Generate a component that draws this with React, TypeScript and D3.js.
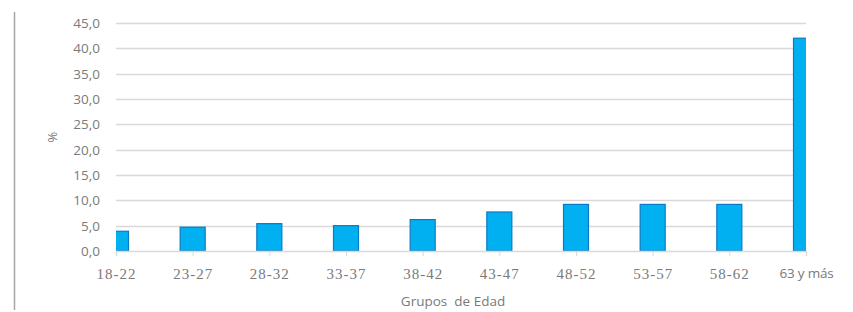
import React, { useEffect, useRef } from "react";
import * as d3 from "d3";

const categories = ["18-22", "23-27", "28-32", "33-37", "38-42", "43-47", "48-52", "53-57", "58-62", "63 y más"];
const values = [3.9, 4.7, 5.4, 5.0, 6.2, 7.7, 9.2, 9.2, 9.2, 42.0];
const yTicks = [0, 5, 10, 15, 20, 25, 30, 35, 40, 45];

export default function App() {
  const ref = useRef<SVGSVGElement>(null);

  useEffect(() => {
    const svg = d3.select(ref.current);
    svg.selectAll("*").remove();

    const width = 853,
      height = 312;
    const left = 116,
      right = 806,
      top = 23,
      bottom = 251;

    // categories sit on the tick marks, first and last bar are cut in half
    const x = d3.scalePoint<string>().domain(categories).range([left, right]);
    const y = d3.scaleLinear().domain([0, 45]).range([bottom, top]);
    const barW = 25;

    svg.attr("width", width).attr("height", height);

    // left border line
    svg
      .append("line")
      .attr("x1", 14.5)
      .attr("x2", 14.5)
      .attr("y1", 12)
      .attr("y2", 310)
      .attr("stroke", "#a6a6a6")
      .attr("stroke-width", 1.5);

    svg
      .append("g")
      .selectAll("line")
      .data(yTicks.slice(1))
      .enter()
      .append("line")
      .attr("x1", left)
      .attr("x2", right)
      .attr("y1", (d) => Math.round(y(d)) + 0.5)
      .attr("y2", (d) => Math.round(y(d)) + 0.5)
      .attr("stroke", "#d9d9d9")
      .attr("stroke-width", 1.3);

    svg
      .append("g")
      .selectAll("text")
      .data(yTicks)
      .enter()
      .append("text")
      .attr("x", 100)
      .attr("y", (d) => y(d) + 5)
      .attr("text-anchor", "end")
      .attr("font-family", "Open Sans, sans-serif")
      .attr("font-size", 13.5)
      .attr("fill", "#7a7a7a")
      .text((d) => d.toFixed(1).replace(".", ","));

    svg
      .append("defs")
      .append("clipPath")
      .attr("id", "plot")
      .append("rect")
      .attr("x", left)
      .attr("y", 0)
      .attr("width", right - left)
      .attr("height", bottom);

    svg
      .append("g")
      .attr("clip-path", "url(#plot)")
      .selectAll("rect")
      .data(values)
      .enter()
      .append("rect")
      .attr("x", (d, i) => x(categories[i])! - barW / 2)
      .attr("y", (d) => y(d))
      .attr("width", barW)
      .attr("height", (d) => bottom - y(d))
      .attr("fill", "#00b0f0")
      .attr("stroke", "#0b79c4")
      .attr("stroke-width", 1.2);

    const axis = svg
      .append("g")
      .attr("transform", `translate(0,${bottom})`)
      .call(d3.axisBottom(x).tickSize(5).tickPadding(12));
    axis.attr("font-family", null);
    axis.select(".domain").attr("stroke", "#d9d9d9").attr("stroke-width", 1.3);
    axis.selectAll(".tick line").attr("stroke", "#d9d9d9");
    axis
      .selectAll<SVGTextElement, string>(".tick text")
      .attr("fill", "#7a7a7a")
      .style("font-family", (d) =>
        d === "63 y más"
          ? "'Open Sans', sans-serif"
          : "'Liberation Serif', 'DejaVu Serif', 'Times New Roman', serif"
      )
      .style("font-size", (d) => (d === "63 y más" ? "13.5px" : "15px"))
      .style("letter-spacing", (d) => (d === "63 y más" ? "-0.2px" : "1px"));

    svg
      .append("text")
      .attr("transform", "translate(57,137) rotate(-90)")
      .attr("text-anchor", "middle")
      .attr("font-family", "Open Sans, sans-serif")
      .attr("font-size", 13)
      .attr("fill", "#7a7a7a")
      .text("%");

    svg
      .append("text")
      .attr("x", 453)
      .attr("y", 306)
      .attr("text-anchor", "middle")
      .attr("font-family", "Open Sans, sans-serif")
      .attr("font-size", 13.5)
      .attr("fill", "#7a7a7a")
      .style("white-space", "pre")
      .text("Grupos  de Edad");
  }, []);

  return <svg ref={ref} style={{ position: "absolute", left: 0, top: 0 }}></svg>;
}
